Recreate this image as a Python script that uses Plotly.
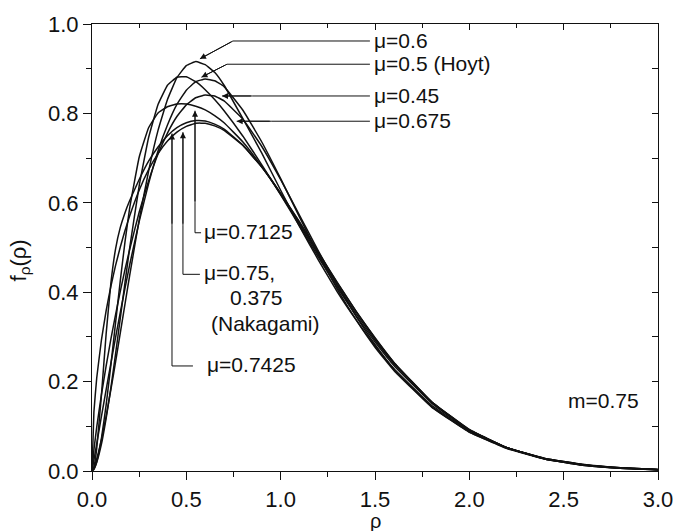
import plotly.graph_objects as go

# rho grid and pdf values (m = 0.75)
rho = [0, 0.01, 0.025, 0.05, 0.075, 0.1, 0.125, 0.15, 0.175, 0.2,
       0.25, 0.3, 0.35, 0.4, 0.45, 0.5, 0.55, 0.6, 0.65, 0.7,
       0.8, 0.9, 1.0, 1.1, 1.2, 1.3, 1.4, 1.5, 1.6, 1.8,
       2.0, 2.2, 2.4, 2.6, 2.8, 3.0]

f_mu_045 = [0, 0.047, 0.098, 0.171, 0.235, 0.295, 0.350, 0.402, 0.451, 0.496,
            0.579, 0.649, 0.709, 0.756, 0.793, 0.819, 0.835, 0.841, 0.839, 0.828,
            0.787, 0.726, 0.652, 0.572, 0.492, 0.416, 0.346, 0.283, 0.228, 0.144,
            0.087, 0.050, 0.027, 0.014, 0.007, 0.0035]
f_mu_050 = [0, 0.0245, 0.061, 0.122, 0.182, 0.241, 0.299, 0.355, 0.409, 0.462,
            0.558, 0.643, 0.716, 0.774, 0.820, 0.852, 0.871, 0.877, 0.873, 0.860,
            0.807, 0.736, 0.654, 0.568, 0.484, 0.407, 0.338, 0.277, 0.225, 0.143,
            0.087, 0.051, 0.028, 0.015, 0.0074, 0.0036]
f_mu_060 = [0, 0.0074, 0.027, 0.070, 0.123, 0.182, 0.244, 0.309, 0.374, 0.438,
            0.562, 0.671, 0.762, 0.831, 0.880, 0.907, 0.916, 0.909, 0.892, 0.863,
            0.788, 0.711, 0.628, 0.547, 0.472, 0.401, 0.338, 0.280, 0.229, 0.147,
            0.090, 0.052, 0.028, 0.0146, 0.0071, 0.0033]
f_mu_0675 = [0, 0.004, 0.019, 0.060, 0.118, 0.186, 0.262, 0.342, 0.422, 0.500,
             0.638, 0.746, 0.820, 0.863, 0.881, 0.882, 0.871, 0.853, 0.831, 0.806,
             0.749, 0.685, 0.618, 0.548, 0.478, 0.411, 0.347, 0.289, 0.236, 0.152,
             0.091, 0.052, 0.028, 0.014, 0.0066, 0.003]
f_mu_07125 = [0, 0.0038, 0.021, 0.073, 0.148, 0.237, 0.332, 0.426, 0.513, 0.589,
              0.702, 0.768, 0.801, 0.815, 0.821, 0.821, 0.816, 0.808, 0.795, 0.779,
              0.736, 0.681, 0.619, 0.552, 0.483, 0.416, 0.352, 0.293, 0.240, 0.154,
              0.092, 0.052, 0.027, 0.014, 0.0064, 0.0028]
f_mu_07425 = [0, 0.0085, 0.050, 0.170, 0.307, 0.420, 0.497, 0.545, 0.578, 0.605,
              0.652, 0.693, 0.725, 0.750, 0.768, 0.779, 0.784, 0.783, 0.776, 0.765,
              0.729, 0.680, 0.621, 0.556, 0.488, 0.421, 0.357, 0.297, 0.243, 0.155,
              0.092, 0.052, 0.027, 0.013, 0.0062, 0.0027]
f_nakagami = [0, 0.1315, 0.208, 0.293, 0.359, 0.413, 0.460, 0.501, 0.538, 0.571,
              0.628, 0.674, 0.710, 0.738, 0.758, 0.771, 0.778, 0.778, 0.772, 0.762,
              0.728, 0.680, 0.621, 0.557, 0.489, 0.422, 0.357, 0.298, 0.243, 0.155,
              0.093, 0.052, 0.027, 0.013, 0.006, 0.0027]

series = [
    ("μ=0.45", f_mu_045), ("μ=0.5 (Hoyt)", f_mu_050), ("μ=0.6", f_mu_060),
    ("μ=0.675", f_mu_0675), ("μ=0.7125", f_mu_07125), ("μ=0.7425", f_mu_07425),
    ("μ=0.75, 0.375 (Nakagami)", f_nakagami),
]

x_ticks = [0.0, 0.5, 1.0, 1.5, 2.0, 2.5, 3.0]
y_ticks = [0.0, 0.2, 0.4, 0.6, 0.8, 1.0]

FONT = "Liberation Sans, Arial, sans-serif"
INK = "#111111"

fig = go.Figure()
for name, ys in series:
    fig.add_trace(go.Scatter(x=rho, y=ys, mode="lines", name=name,
                             line=dict(color=INK, width=1.5, shape="spline", smoothing=0.3),
                             showlegend=False, hoverinfo="skip"))
# dummy trace for the mirrored (top/right) axes
fig.add_trace(go.Scatter(x=[None], y=[None], xaxis="x2", yaxis="y2", showlegend=False, hoverinfo="skip"))

ann = []
shapes = []

def line(x0, y0, x1, y1):
    shapes.append(dict(type="line", xref="x", yref="y", x0=x0, y0=y0, x1=x1, y1=y1,
                       line=dict(color=INK, width=1)))

def head(xt, yt, xs, ys):
    # arrow head at (xt, yt) pointing away from (xs, ys); shaft drawn by line()
    ann.append(dict(x=xt, y=yt, ax=xs, ay=ys, xref="x", yref="y", axref="x", ayref="y",
                    text="", showarrow=True, arrowhead=2, arrowsize=1.2, arrowwidth=1,
                    arrowcolor=INK, standoff=0))
    line(xs, ys, xt, yt)

def label(x, y, text, size=21):
    ann.append(dict(x=x, y=y, xref="x", yref="y", text=text, showarrow=False,
                    xanchor="left", yanchor="middle", font=dict(size=size, color=INK, family=FONT)))

# top-right labels
head(0.572, 0.922, 0.747, 0.962); line(0.747, 0.962, 1.473, 0.962); label(1.485, 0.964, "μ=0.6")
head(0.58, 0.881, 0.7155, 0.910); line(0.7155, 0.910, 1.473, 0.910); label(1.485, 0.912, "μ=0.5 (Hoyt)")
head(0.689, 0.839, 0.85, 0.839); line(0.85, 0.839, 1.473, 0.839); label(1.485, 0.841, "μ=0.45")
head(0.767, 0.7825, 0.95, 0.7825); line(0.95, 0.7825, 1.473, 0.7825); label(1.485, 0.784, "μ=0.675")

# lower labels
head(0.546, 0.806, 0.546, 0.60); line(0.546, 0.60, 0.546, 0.533); line(0.546, 0.533, 0.578, 0.533)
label(0.585, 0.535, "μ=0.7125")
head(0.482, 0.758, 0.482, 0.55); line(0.482, 0.55, 0.482, 0.440); line(0.482, 0.440, 0.572, 0.440)
label(0.585, 0.444, "μ=0.75,")
label(0.72, 0.389, "0.375")
label(0.62, 0.330, "(Nakagami)")
head(0.424, 0.755, 0.424, 0.55); line(0.424, 0.55, 0.424, 0.235); line(0.424, 0.235, 0.535, 0.235)
label(0.599, 0.238, "μ=0.7425")

label(2.51, 0.157, "m=0.75")

# axis titles
ann.append(dict(x=1.5, y=-0.112, xref="x", yref="paper", text="ρ", showarrow=False,
                xanchor="center", yanchor="middle", font=dict(size=20, color=INK, family=FONT)))
ann.append(dict(x=-0.128, y=0.47, xref="paper", yref="paper", text="f<sub>ρ</sub>(ρ)", showarrow=False,
                textangle=-90, xanchor="center", yanchor="middle",
                font=dict(size=22, color=INK, family=FONT)))

axis_common = dict(showline=True, linecolor=INK, linewidth=1.2, showgrid=False, zeroline=False,
                   tickcolor=INK, tickwidth=1.2)

fig.update_layout(
    width=689, height=531,
    margin=dict(l=92, r=31, t=19, b=60),
    paper_bgcolor="white", plot_bgcolor="white",
    font=dict(family=FONT, size=22, color=INK),
    xaxis=dict(range=[0, 3], tickvals=x_ticks, ticktext=[f"{v:.1f}" for v in x_ticks],
               ticks="outside", ticklen=8,
               minor=dict(dtick=0.25, tick0=0, ticks="outside", ticklen=5, tickcolor=INK, tickwidth=1.2),
               **axis_common),
    yaxis=dict(range=[0, 1], tickvals=y_ticks, ticktext=[f"{v:.1f}" for v in y_ticks],
               ticks="outside", ticklen=8,
               minor=dict(dtick=0.1, tick0=0, ticks="outside", ticklen=5, tickcolor=INK, tickwidth=1.2),
               **axis_common),
    xaxis2=dict(range=[0, 3], overlaying="x", side="top", tickvals=x_ticks, showticklabels=False,
                ticks="inside", ticklen=6,
                minor=dict(dtick=0.25, tick0=0, ticks="inside", ticklen=4, tickcolor=INK, tickwidth=1.2),
                **axis_common),
    yaxis2=dict(range=[0, 1], overlaying="y", side="right", tickvals=y_ticks, showticklabels=False,
                ticks="inside", ticklen=6,
                minor=dict(dtick=0.1, tick0=0, ticks="inside", ticklen=6, tickcolor=INK, tickwidth=1.2),
                **axis_common),
    annotations=ann, shapes=shapes,
)

fig.write_html("out.html")
